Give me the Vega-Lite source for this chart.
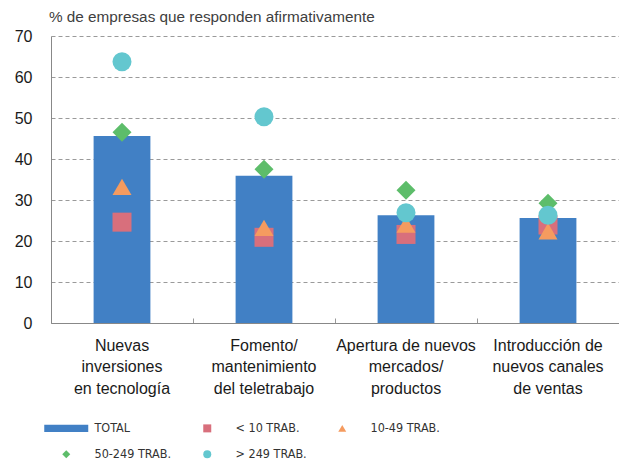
{
  "$schema": "https://vega.github.io/schema/vega-lite/v6.json",
  "width": 568,
  "height": 287,
  "autosize": "none",
  "padding": {"left": 51, "top": 36, "right": 0, "bottom": 138},
  "background": "white",
  "title": {
    "text": "% de empresas que responden afirmativamente",
    "anchor": "start",
    "frame": "group",
    "offset": 3,
    "dx": -2,
    "font": "Liberation Sans",
    "fontSize": 15.3,
    "fontWeight": "normal",
    "color": "#404040"
  },
  "config": {
    "view": {"stroke": null},
    "font": "Liberation Sans"
  },
  "data": {
    "values": [
      {"cat": "Nuevas|inversiones|en tecnología", "serie": "TOTAL", "valor": 45.6},
      {"cat": "Fomento/|mantenimiento|del teletrabajo", "serie": "TOTAL", "valor": 35.9},
      {"cat": "Apertura de nuevos|mercados/|productos", "serie": "TOTAL", "valor": 26.3},
      {"cat": "Introducción de|nuevos canales|de ventas", "serie": "TOTAL", "valor": 25.6},
      {"cat": "Nuevas|inversiones|en tecnología", "serie": "< 10 TRAB.", "valor": 24.6},
      {"cat": "Fomento/|mantenimiento|del teletrabajo", "serie": "< 10 TRAB.", "valor": 20.9},
      {"cat": "Apertura de nuevos|mercados/|productos", "serie": "< 10 TRAB.", "valor": 21.6},
      {"cat": "Introducción de|nuevos canales|de ventas", "serie": "< 10 TRAB.", "valor": 23.9},
      {"cat": "Nuevas|inversiones|en tecnología", "serie": "10-49 TRAB.", "valor": 33.2},
      {"cat": "Fomento/|mantenimiento|del teletrabajo", "serie": "10-49 TRAB.", "valor": 23.2},
      {"cat": "Apertura de nuevos|mercados/|productos", "serie": "10-49 TRAB.", "valor": 24.0},
      {"cat": "Introducción de|nuevos canales|de ventas", "serie": "10-49 TRAB.", "valor": 22.4},
      {"cat": "Nuevas|inversiones|en tecnología", "serie": "50-249 TRAB.", "valor": 46.5},
      {"cat": "Fomento/|mantenimiento|del teletrabajo", "serie": "50-249 TRAB.", "valor": 37.5},
      {"cat": "Apertura de nuevos|mercados/|productos", "serie": "50-249 TRAB.", "valor": 32.4},
      {"cat": "Introducción de|nuevos canales|de ventas", "serie": "50-249 TRAB.", "valor": 29.2},
      {"cat": "Nuevas|inversiones|en tecnología", "serie": "> 249 TRAB.", "valor": 63.7},
      {"cat": "Fomento/|mantenimiento|del teletrabajo", "serie": "> 249 TRAB.", "valor": 50.3},
      {"cat": "Apertura de nuevos|mercados/|productos", "serie": "> 249 TRAB.", "valor": 26.9},
      {"cat": "Introducción de|nuevos canales|de ventas", "serie": "> 249 TRAB.", "valor": 26.3}
    ]
  },
  "encoding": {
    "x": {
      "field": "cat",
      "type": "nominal",
      "sort": null,
      "scale": {"paddingInner": 0, "paddingOuter": 0},
      "axis": {
        "title": null,
        "labelAngle": 0,
        "labelExpr": "split(datum.label, '|')",
        "labelFont": "Liberation Sans",
        "labelFontSize": 16,
        "labelColor": "#1a1a1a",
        "labelLineHeight": 21.5,
        "labelPadding": 19,
        "labelLimit": 0,
        "bandPosition": 0,
        "ticks": true,
        "tickSize": -5,
        "tickColor": "#999999",
        "domainColor": "#888888",
        "grid": false
      }
    },
    "y": {
      "field": "valor",
      "type": "quantitative",
      "scale": {"domain": [0, 70], "nice": false},
      "axis": {
        "title": null,
        "values": [0, 10, 20, 30, 40, 50, 60, 70],
        "labelFont": "Liberation Sans",
        "labelFontSize": 16,
        "labelColor": "#1a1a1a",
        "labelPadding": 19,
        "ticks": false,
        "domainColor": "#888888",
        "gridColor": "#9a9a9a",
        "gridDash": [4, 3],
        "gridWidth": 1
      }
    },
    "color": {
      "field": "serie",
      "type": "nominal",
      "scale": {
        "domain": ["TOTAL", "50-249 TRAB.", "< 10 TRAB.", "> 249 TRAB.", "10-49 TRAB."],
        "range": ["#4180c5", "#5dbd6a", "#d86f7c", "#63c7cf", "#f59b5f"]
      },
      "legend": {
        "title": null,
        "orient": "none",
        "legendX": 9,
        "legendY": 386,
        "columns": 3,
        "columnPadding": 29,
        "rowPadding": 13,
        "padding": 0,
        "symbolSize": 64,
        "symbolStrokeWidth": 0,
        "labelOffset": 22,
        "labelFont": "DejaVu Sans Condensed",
        "labelFontSize": 12.5,
        "labelColor": "#333333"
      }
    },
    "shape": {
      "field": "serie",
      "type": "nominal",
      "scale": {
        "domain": ["TOTAL", "50-249 TRAB.", "< 10 TRAB.", "> 249 TRAB.", "10-49 TRAB."],
        "range": ["M-5.5,-0.9H5.5V0.9H-5.5Z", "diamond", "square", "circle", "triangle-up"]
      },
      "legend": {
        "title": null,
        "orient": "none",
        "legendX": 9,
        "legendY": 386,
        "columns": 3,
        "columnPadding": 29,
        "rowPadding": 13,
        "padding": 0,
        "symbolSize": 64,
        "symbolStrokeWidth": 0,
        "labelOffset": 22,
        "labelFont": "DejaVu Sans Condensed",
        "labelFontSize": 12.5,
        "labelColor": "#333333"
      }
    }
  },
  "layer": [
    {
      "transform": [{"filter": "datum.serie === 'TOTAL'"}],
      "mark": {"type": "bar", "width": {"band": 0.4}},
      "encoding": {
        "shape": {"value": null}
      }
    },
    {
      "transform": [{"filter": "datum.serie !== 'TOTAL'"}],
      "mark": {"type": "point", "filled": true, "opacity": 1, "strokeWidth": 0},
      "encoding": {
        "size": {
          "field": "serie",
          "type": "nominal",
          "scale": {
            "domain": ["< 10 TRAB.", "10-49 TRAB.", "50-249 TRAB.", "> 249 TRAB."],
            "range": [361, 361, 256, 361]
          },
          "legend": null
        }
      }
    }
  ]
}
